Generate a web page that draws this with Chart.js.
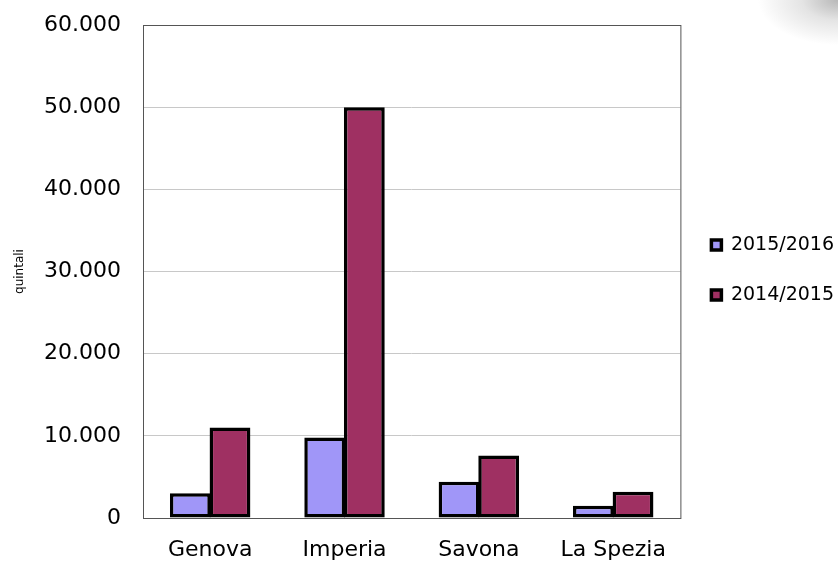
<!DOCTYPE html>
<html>
<head>
<meta charset="utf-8">
<script src="https://cdn.jsdelivr.net/npm/chart.js@4/dist/chart.umd.min.js"></script>
<style>
  html, body { margin: 0; padding: 0; background: #fff; }
  #wrap { position: relative; width: 838px; height: 564px;
          background: radial-gradient(ellipse 80px 45px at 838px 0px, #b8b8b8 0%, #e4e4e4 45%, rgba(255,255,255,0) 100%); }
</style>
</head>
<body>
<div id="wrap"><canvas id="chart" width="838" height="564"></canvas></div>
<script>
// province e quintali raccolti
var province = ["Genova", "Imperia", "Savona", "La Spezia"];
var stagione1516 = [3000, 9800, 4400, 1500];
var stagione1415 = [11000, 50000, 7600, 3200];
var seriesNames = ["2015/2016", "2014/2015"];
var yTicks = [0, 10000, 20000, 30000, 40000, 50000, 60000];

function fmt(n) {
    return String(n).replace(/\B(?=(\d{3})+(?!\d))/g, ".");
}

// cornice grigia attorno all'area del grafico
var frame = {
    id: "frame",
    afterDatasetsDraw: function(chart) {
        var a = chart.chartArea, ctx = chart.ctx;
        ctx.save();
        ctx.strokeStyle = "#555";
        ctx.lineWidth = 1;
        ctx.strokeRect(a.left + 0.5, a.top + 0.5, a.right - a.left, a.bottom - a.top);
        ctx.restore();
    }
};

var ctx = document.getElementById("chart").getContext("2d");
var chart = new Chart(ctx, {
    type: "bar",
    data: {
        labels: province,
        datasets: [
            {
                label: seriesNames[0],
                data: stagione1516,
                backgroundColor: "#a096f8",
                borderColor: "#000",
                borderWidth: 3.5,
                borderSkipped: false
            },
            {
                label: seriesNames[1],
                data: stagione1415,
                backgroundColor: "#9f3062",
                borderColor: "#000",
                borderWidth: 3.5,
                borderSkipped: false
            }
        ]
    },
    plugins: [frame],
    options: {
        responsive: false,
        animation: false,
        layout: { padding: { top: 25, left: 0, right: -6, bottom: 0 } },
        datasets: { bar: { categoryPercentage: 0.59, barPercentage: 1.03 } },
        plugins: {
            tooltip: { enabled: false },
            legend: {
                position: "right",
                align: "start",
                title: { display: true, text: "", font: { size: 12 }, padding: { top: 165, bottom: 0 } },
                labels: {
                    color: "#000",
                    font: { family: "DejaVu Sans", size: 19 },
                    boxWidth: 10,
                    boxHeight: 10,
                    padding: 31
                }
            }
        },
        scales: {
            x: {
                grid: { display: false, drawTicks: false },
                border: { display: false },
                ticks: {
                    color: "#000",
                    font: { family: "DejaVu Sans", size: 22 },
                    padding: 19
                },
                afterFit: function(axis) {
                    axis.height = 46;
                    axis.paddingLeft = 0;
                    axis.paddingRight = 0;
                }
            },
            y: {
                min: 0,
                max: 60000,
                afterBuildTicks: function(axis) {
                    axis.ticks = yTicks.map(function(v) { return { value: v }; });
                },
                grid: { color: "#c8c8c8", drawTicks: false },
                border: { display: false },
                ticks: {
                    color: "#000",
                    font: { family: "DejaVu Sans", size: 22 },
                    padding: 22,
                    callback: function(v) { return fmt(v); }
                },
                title: {
                    display: true,
                    text: "quintali",
                    color: "#000",
                    font: { family: "DejaVu Sans", size: 12 },
                    padding: { top: 13, bottom: 0 }
                },
                afterFit: function(axis) {
                    axis.width = 143;
                    axis.paddingTop = 0;
                    axis.paddingBottom = 0;
                }
            }
        }
    }
});
</script>
</body>
</html>
